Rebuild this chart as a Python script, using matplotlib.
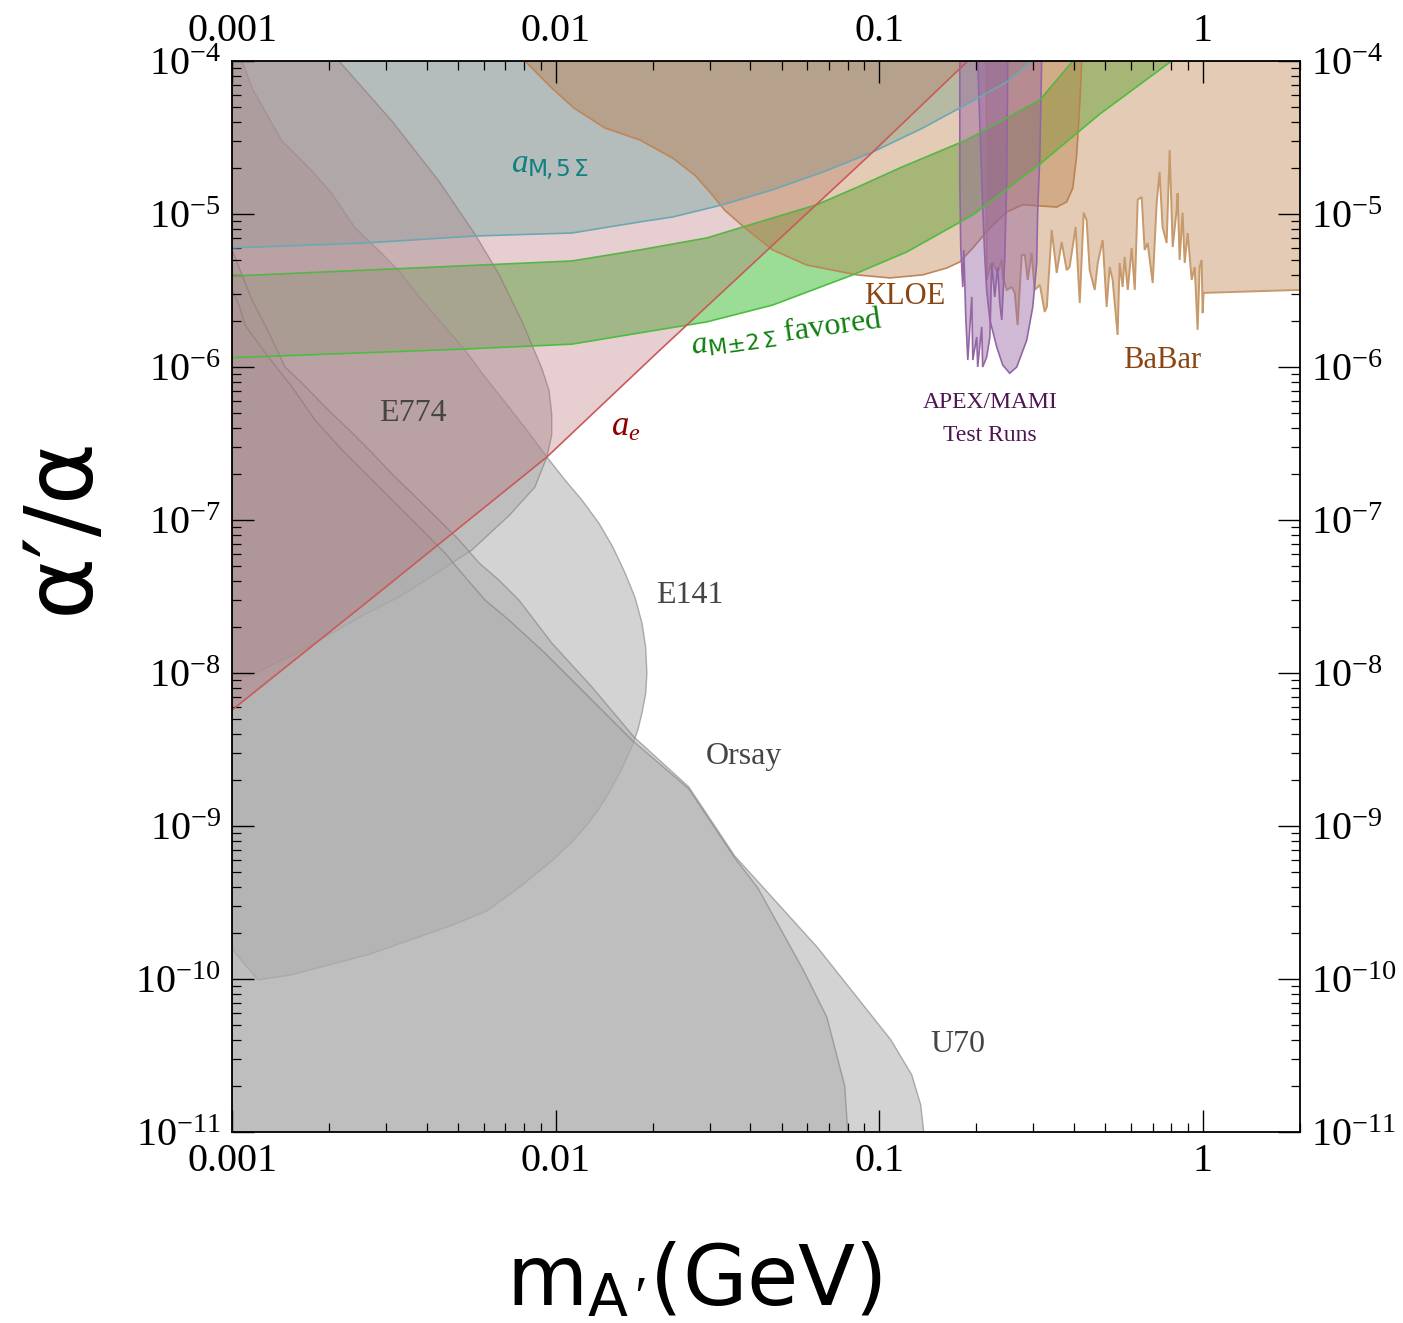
import numpy as np
import matplotlib
matplotlib.use("Agg")
import matplotlib.pyplot as plt
from matplotlib.ticker import FixedLocator, LogLocator, NullFormatter

# limiti sul piano (m_A', alpha'/alpha)

# E141
e141_mass = [1.0e-3, 1.074e-3, 1.153e-3, 1.264e-3, 1.427e-3, 1.565e-3, 1.766e-3, 2.04e-3, 2.40e-3,
             2.85e-3, 3.28e-3, 3.86e-3, 4.36e-3, 5.25e-3, 6.05e-3, 7.17e-3, 8.27e-3, 9.40e-3,
             1.068e-2, 1.206e-2, 1.36e-2, 1.503e-2, 1.64e-2, 1.758e-2, 1.85e-2, 1.90e-2, 1.915e-2,
             1.90e-2, 1.85e-2, 1.796e-2, 1.72e-2, 1.591e-2, 1.46e-2, 1.36e-2, 1.258e-2, 1.115e-2,
             9.73e-3, 7.76e-3, 6.13e-3, 4.72e-3, 3.65e-3, 2.63e-3, 1.896e-3, 1.51e-3, 1.203e-3,
             1.021e-3, 1.0e-3]
e141_alpha = [1e-4, 1e-4, 6.66e-5, 4.71e-5, 3.0e-5, 2.47e-5, 1.91e-5, 1.35e-5, 8.1e-6,
              5.73e-6, 4.24e-6, 2.74e-6, 2.03e-6, 1.29e-6, 8.6e-7, 5.48e-7, 3.71e-7, 2.58e-7,
              1.83e-7, 1.35e-7, 9.56e-8, 6.66e-8, 4.5e-8, 3.14e-8, 2.12e-8, 1.46e-8, 1.0e-8,
              7.4e-9, 5.48e-9, 4.24e-9, 3.28e-9, 2.29e-9, 1.64e-9, 1.29e-9, 1.03e-9, 7.74e-10,
              5.9e-10, 4.0e-10, 2.78e-10, 2.22e-10, 1.83e-10, 1.44e-10, 1.2e-10, 1.06e-10, 9.85e-11,
              1.48e-10, 1.67e-10]

# E774
e774_mass = [1.0e-3, 2.14e-3, 3.12e-3, 4.36e-3, 5.63e-3, 6.68e-3, 7.86e-3, 9.06e-3, 9.54e-3,
             9.73e-3, 9.73e-3, 9.40e-3, 8.63e-3, 7.22e-3, 5.51e-3, 4.15e-3, 3.28e-3, 2.58e-3,
             1.61e-3, 1.13e-3, 1.0e-3]
e774_alpha = [1e-4, 1e-4, 4.05e-5, 1.64e-5, 7.4e-6, 4.05e-6, 2.0e-6, 9.85e-7, 7.07e-7,
              4.93e-7, 3.59e-7, 2.58e-7, 1.64e-7, 1.08e-7, 6.36e-8, 4.3e-8, 3.14e-8, 2.43e-8,
              1.37e-8, 9.56e-9, 9.28e-9]

# U70
u70_mass = [1.0e-3, 1.059e-3, 1.153e-3, 1.30e-3, 1.458e-3, 1.645e-3, 1.94e-3, 2.30e-3, 2.71e-3,
            3.19e-3, 3.78e-3, 4.36e-3, 5.03e-3, 5.80e-3, 6.68e-3, 7.70e-3, 9.73e-3, 1.295e-2,
            1.746e-2, 2.58e-2, 3.58e-2, 6.46e-2, 0.1087, 0.1262, 0.1345, 0.1374, 1.0e-3]
u70_alpha = [5.82e-6, 4.3e-6, 2.74e-6, 1.67e-6, 1.0e-6, 7.86e-7, 5.48e-7, 3.88e-7, 2.74e-7,
             1.91e-7, 1.35e-7, 1.0e-7, 7.4e-8, 5.24e-8, 4.05e-8, 3.0e-8, 1.57e-8, 8.1e-9,
             3.82e-9, 1.8e-9, 6.36e-10, 1.6e-10, 4.0e-11, 2.36e-11, 1.5e-11, 1.0e-11, 1.0e-11]

# Orsay
orsay_mass = [1.0e-3, 1.051e-3, 1.097e-3, 1.264e-3, 1.532e-3, 1.805e-3, 2.186e-3, 2.58e-3, 3.12e-3,
              3.78e-3, 4.55e-3, 5.25e-3, 6.05e-3, 7.17e-3, 9.27e-3, 1.295e-2, 1.72e-2, 2.58e-2,
              3.58e-2, 4.22e-2, 5.85e-2, 6.89e-2, 7.83e-2, 8.0e-2, 1.0e-3]
orsay_alpha = [3.19e-6, 2.54e-6, 1.88e-6, 1.24e-6, 7.4e-7, 4.5e-7, 2.87e-7, 2.03e-7, 1.35e-7,
               9.0e-8, 6.08e-8, 4.24e-8, 3.0e-8, 2.22e-8, 1.35e-8, 6.66e-9, 3.65e-9, 1.75e-9,
               6.18e-10, 3.93e-10, 1.13e-10, 5.65e-11, 2.0e-11, 1.0e-11, 1.0e-11]

# a_e (escluso sopra la linea)
ae_mass = [1.0e-3, 2.71e-3, 9.40e-3, 2.06e-2, 4.59e-2, 9.35e-2, 0.188]
ae_alpha = [5.73e-9, 3.09e-8, 2.58e-7, 1.24e-6, 6.0e-6, 2.43e-5, 1.0e-4]

# a_mu 5 sigma (escluso sopra la linea)
amu5_mass = [1.0e-3, 2.58e-3, 5.63e-3, 1.123e-2, 1.82e-2, 2.30e-2, 3.29e-2, 4.69e-2, 6.70e-2,
             9.55e-2, 0.1365, 0.1776, 0.248, 0.296]
amu5_alpha = [6.0e-6, 6.46e-6, 7.18e-6, 7.51e-6, 8.87e-6, 9.56e-6, 1.15e-5, 1.44e-5, 1.88e-5,
              2.54e-5, 3.65e-5, 4.93e-5, 7.29e-5, 1.0e-4]

# banda favorita a_mu +- 2 sigma
band_mass_hi = [1.0e-3, 3.12e-3, 1.123e-2, 1.82e-2, 2.93e-2, 4.69e-2, 6.42e-2, 8.71e-2, 0.1159,
                0.1866, 0.314, 0.397]
band_alpha_hi = [3.93e-6, 4.37e-6, 4.93e-6, 5.82e-6, 6.97e-6, 9.42e-6, 1.15e-5, 1.52e-5, 2.0e-5,
                 3.05e-5, 5.56e-5, 1.0e-4]
band_mass_lo = [1.0e-3, 5.25e-3, 1.123e-2, 1.82e-2, 2.93e-2, 4.69e-2, 8.29e-2, 0.1218, 0.1948,
                0.314, 0.481, 0.802]
band_alpha_lo = [1.15e-6, 1.31e-6, 1.41e-6, 1.67e-6, 1.97e-6, 2.54e-6, 4.0e-6, 5.65e-6, 9.85e-6,
                 2.12e-5, 4.5e-5, 1.0e-4]

# KLOE
kloe_mass = [8.04e-3, 9.73e-3, 1.139e-2, 1.42e-2, 1.82e-2, 2.30e-2, 2.69e-2, 3.0e-2, 3.33e-2,
             3.85e-2, 4.69e-2, 5.97e-2, 8.53e-2, 0.1079, 0.1365, 0.162, 0.1776, 0.1948, 0.220,
             0.248, 0.278, 0.354, 0.380, 0.397, 0.408, 0.417, 0.423]
kloe_alpha = [1e-4, 6.66e-5, 4.93e-5, 3.65e-5, 3.05e-5, 2.32e-5, 1.8e-5, 1.39e-5, 1.06e-5,
              8.1e-6, 5.82e-6, 4.64e-6, 4.0e-6, 3.82e-6, 4.0e-6, 4.44e-6, 4.86e-6, 6.0e-6, 8.1e-6,
              1.03e-5, 1.15e-5, 1.11e-5, 1.2e-5, 1.48e-5, 2.43e-5, 5.16e-5, 1e-4]

# BaBar
babar_mass = [0.215, 0.215, 0.220, 0.2245, 0.2326, 0.2394, 0.241, 0.248, 0.257, 0.2626, 0.268,
              0.276, 0.282, 0.288, 0.296, 0.3027, 0.314, 0.325, 0.33, 0.3416, 0.354, 0.3667,
              0.380, 0.388, 0.405, 0.417, 0.429, 0.438, 0.4475, 0.464, 0.474, 0.491, 0.505,
              0.516, 0.527, 0.546, 0.554, 0.566, 0.574, 0.587, 0.6035, 0.617, 0.63, 0.648,
              0.662, 0.676, 0.701, 0.721, 0.736, 0.752, 0.774, 0.791, 0.808, 0.831, 0.837,
              0.849, 0.867, 0.88, 0.899, 0.925, 0.945, 0.965, 0.979, 0.993, 1.0, 1.007, 2.0, 2.0]
babar_alpha = [1e-4, 3.71e-6, 4.5e-6, 4.78e-6, 4.12e-6, 5.0e-6, 3.88e-6, 3.19e-6, 3.33e-6,
               3.05e-6, 1.88e-6, 5.4e-6, 5.4e-6, 3.71e-6, 5.56e-6, 3.19e-6, 3.44e-6, 2.29e-6,
               2.47e-6, 7.86e-6, 4.12e-6, 6.56e-6, 4.3e-6, 4.5e-6, 8.22e-6, 2.62e-6, 1.02e-5,
               9.1e-6, 4.3e-6, 3.19e-6, 4.78e-6, 6.76e-6, 2.47e-6, 4.5e-6, 3.71e-6, 1.62e-6,
               4.78e-6, 3.33e-6, 5.24e-6, 3.19e-6, 6.0e-6, 3.19e-6, 1.24e-5, 1.29e-5, 5.82e-6,
               6.46e-6, 3.54e-6, 1.18e-5, 1.88e-5, 8.22e-6, 6.46e-6, 2.62e-5, 6.08e-6, 1.06e-5,
               1.37e-5, 5.0e-6, 1.02e-5, 4.78e-6, 7.51e-6, 3.71e-6, 4.5e-6, 1.75e-6, 4.5e-6,
               5.0e-6, 2.25e-6, 3.05e-6, 3.19e-6, 1e-4]

# APEX test run
apex_mass = [0.1776, 0.2498, 0.248, 0.2445, 0.2394, 0.236, 0.2326, 0.2277, 0.2229, 0.220, 0.215,
             0.209, 0.2076, 0.2017, 0.2003, 0.1948, 0.1934, 0.188, 0.1853, 0.1827, 0.1814,
             0.1788, 0.1776]
apex_alpha = [1e-4, 1e-4, 1.67e-5, 5.0e-6, 2.03e-6, 2.62e-6, 4.5e-6, 2.87e-6, 4.78e-6, 1.57e-6,
              1.16e-6, 1.0e-6, 1.83e-6, 1.0e-6, 1.57e-6, 1.11e-6, 2.87e-6, 1.11e-6, 2.12e-6,
              5.82e-6, 3.33e-6, 6.08e-6, 1.67e-5]

# MAMI
mami_mass = [0.2018, 0.2047, 0.209, 0.212, 0.215, 0.220, 0.231, 0.241, 0.2533, 0.2664, 0.286,
             0.2985, 0.307, 0.309, 0.314, 0.318]
mami_alpha = [1e-4, 4.0e-5, 1.15e-5, 5.4e-6, 3.19e-6, 2.03e-6, 1.35e-6, 1.03e-6, 9.1e-7, 1.0e-6,
              1.5e-6, 2.47e-6, 4.78e-6, 1.02e-5, 2.43e-5, 1e-4]

x_ticks = [1e-3, 1e-2, 1e-1, 1.0]
x_labels = ["0.001", "0.01", "0.1", "1"]
y_ticks = [1e-11, 1e-10, 1e-9, 1e-8, 1e-7, 1e-6, 1e-5, 1e-4]
y_labels = [r"$10^{-11}$", r"$10^{-10}$", r"$10^{-9}$", r"$10^{-8}$",
            r"$10^{-7}$", r"$10^{-6}$", r"$10^{-5}$", r"$10^{-4}$"]

plt.rcParams["font.family"] = ["Liberation Serif", "DejaVu Serif"]
plt.rcParams["mathtext.fontset"] = "custom"
plt.rcParams["mathtext.rm"] = "Liberation Serif"
plt.rcParams["mathtext.it"] = "Liberation Serif:italic"
plt.rcParams["mathtext.sf"] = "DejaVu Sans"
plt.rcParams["mathtext.fallback"] = "stix"

fig = plt.figure(figsize=(14.03, 13.23), dpi=100)
ax = fig.add_axes([0.1654, 0.1444, 0.7612, 0.8095])
ax.set_xscale("log")
ax.set_yscale("log")

# a_mu 5 sigma e banda favorita: sotto a tutto
ax.fill(amu5_mass + [1e-3], amu5_alpha + [1e-4], facecolor=(33/255, 174/255, 164/255, 0.32), lw=0)
ax.plot(amu5_mass, amu5_alpha, color=(0.42, 0.66, 0.70), lw=1.2)

ax.fill(band_mass_hi + band_mass_lo[::-1], band_alpha_hi + band_alpha_lo[::-1],
        facecolor=(35/255, 180/255, 22/255, 0.45), lw=0)
ax.plot(band_mass_hi, band_alpha_hi, color=(0.35, 0.70, 0.28), lw=1.2)
ax.plot(band_mass_lo, band_alpha_lo, color=(0.30, 0.74, 0.25), lw=1.2)

# esperimenti beam dump in grigio
grigio = (171/255, 171/255, 171/255, 0.52)
bordo_grigio = (0.5, 0.5, 0.5, 0.6)
for m, a in [(e141_mass, e141_alpha), (e774_mass, e774_alpha),
             (u70_mass, u70_alpha), (orsay_mass, orsay_alpha)]:
    ax.fill(m, a, facecolor=grigio, edgecolor=bordo_grigio, lw=1.0)

# a_e, sopra i beam dump
ax.fill(ae_mass + [1e-3], ae_alpha + [1e-4], facecolor=(178/255, 98/255, 105/255, 0.3), lw=0)
ax.plot(ae_mass, ae_alpha, color=(0.8, 0.35, 0.35), lw=1.2)

# KLOE e BaBar
marrone = (185/255, 125/255, 70/255, 0.4)
ax.fill(kloe_mass, kloe_alpha, facecolor=marrone, edgecolor=(0.75, 0.52, 0.35), lw=1.2)
ax.fill(babar_mass, babar_alpha, facecolor=marrone, edgecolor=(0.78, 0.6, 0.42), lw=1.4)

# APEX / MAMI
viola = (150/255, 100/255, 160/255, 0.45)
ax.fill(apex_mass, apex_alpha, facecolor=viola, edgecolor=(0.58, 0.4, 0.65), lw=1.2)
ax.fill(mami_mass, mami_alpha, facecolor=viola, edgecolor=(0.58, 0.4, 0.65), lw=1.2)

# etichette
grigio_testo = "#454545"
ax.text(3.62e-3, 5.0e-7, "E774", fontsize=23, color=grigio_testo, ha="center", va="center")
ax.text(2.6e-2, 3.23e-8, "E141", fontsize=23, color=grigio_testo, ha="center", va="center")
ax.text(3.82e-2, 2.83e-9, "Orsay", fontsize=23, color=grigio_testo, ha="center", va="center")
ax.text(0.175, 3.71e-11, "U70", fontsize=23, color=grigio_testo, ha="center", va="center")
ax.text(0.12, 2.91e-6, "KLOE", fontsize=22, color="#8B4513", ha="center", va="center")
ax.text(0.747, 1.11e-6, "BaBar", fontsize=22, color="#8B4513", ha="center", va="center")
ax.text(0.220, 5.82e-7, "APEX/MAMI", fontsize=17, color="#4F1552", ha="center", va="center")
ax.text(0.220, 3.59e-7, "Test Runs", fontsize=17, color="#4F1552", ha="center", va="center")
ax.text(1.65e-2, 4.0e-7, r"$a_e$", fontsize=25, color="#8B0000", ha="center", va="center")
ax.text(9.6e-3, 2.0e-5, r"$\mathit{a}_{\mathsf{M\!,5\,\Sigma}}$", fontsize=24, color="#108080",
        ha="center", va="center")
ax.text(5.18e-2, 1.67e-6, r"$\mathit{a}_{\mathsf{M{\pm}2\,\Sigma}}$ favored", fontsize=23,
        color="#108010", ha="center", va="center", rotation=8)

ax.set_xlim(1e-3, 2.0)
ax.set_ylim(1e-11, 1e-4)

ax.xaxis.set_major_locator(FixedLocator(x_ticks))
ax.set_xticklabels(x_labels)
ax.yaxis.set_major_locator(FixedLocator(y_ticks))
ax.set_yticklabels(y_labels)
ax.xaxis.set_minor_locator(LogLocator(base=10, subs=np.arange(2, 10), numticks=20))
ax.yaxis.set_minor_locator(LogLocator(base=10, subs=np.arange(2, 10), numticks=20))
ax.xaxis.set_minor_formatter(NullFormatter())
ax.yaxis.set_minor_formatter(NullFormatter())

ax.tick_params(which="both", direction="in", top=True, right=True,
               labeltop=True, labelright=True)
ax.tick_params(which="major", length=16, width=1.0, labelsize=29, pad=8)
ax.tick_params(which="minor", length=6.5, width=0.9)
for s in ax.spines.values():
    s.set_linewidth(1.3)

fig.text(0.044, 0.603, "α′/α", rotation=90, fontsize=68, family="DejaVu Sans",
         ha="center", va="center")
fig.text(0.495, 0.031, r"m$_{\mathsf{A}\,\prime}$(GeV)", fontsize=60, family="DejaVu Sans",
         ha="center", va="center")

fig.savefig("out.png", dpi=100)
